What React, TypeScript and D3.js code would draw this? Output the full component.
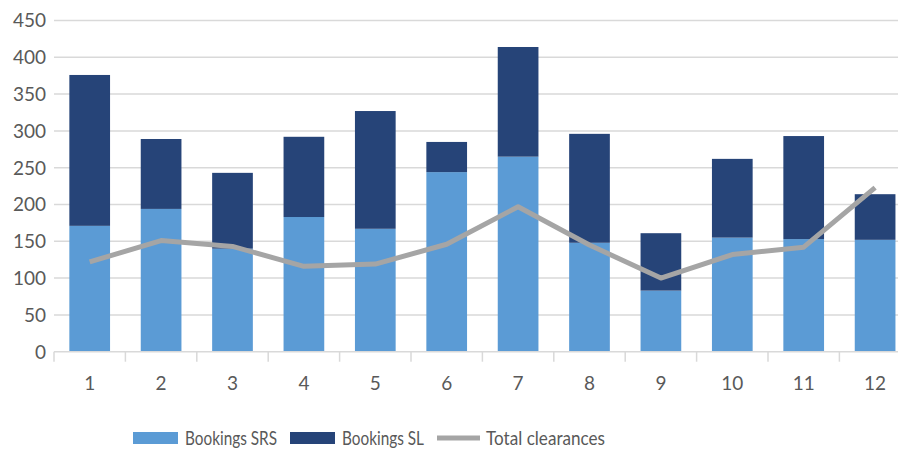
import React, { useEffect, useRef } from "react";
import * as d3 from "d3";

// month index -> values
const categories = ["1", "2", "3", "4", "5", "6", "7", "8", "9", "10", "11", "12"];
const bookingsSRS = [171, 194, 140, 183, 167, 244, 265, 148, 83, 155, 153, 152];
const bookingsSL = [205, 95, 103, 109, 160, 41, 149, 148, 78, 107, 140, 62];
const totalClearances = [122, 151, 143, 116, 119, 146, 197, 145, 100, 132, 142, 223];
const yTicks = [0, 50, 100, 150, 200, 250, 300, 350, 400, 450];
const legendItems = [
    { label: "Bookings SRS", color: "#5B9BD5", kind: "rect", x: 133, textW: 92 },
    { label: "Bookings SL", color: "#264478", kind: "rect", x: 290, textW: 82 },
    { label: "Total clearances", color: "#A5A5A5", kind: "line", x: 437, textW: 119 },
];

const W = 898;
const H = 451;

const App = () => {
    const svgRef = useRef<SVGSVGElement | null>(null);

    useEffect(() => {
        const svg = d3.select(svgRef.current);
        svg.selectAll("*").remove();

        const font = "Lato, 'Open Sans', sans-serif";
        const left = 54;
        const step = 71.4;
        const plotRight = left + step * categories.length;
        const top = 20.5;
        const bottom = 351.7;

        const x = d3.scaleBand<string>()
            .domain(categories)
            .range([left, plotRight])
            .paddingInner(0.43)
            .paddingOuter(0.215);

        const y = d3.scaleLinear().domain([0, 450]).range([bottom, top]);

        // gridlines
        svg.append("g")
            .selectAll("line")
            .data(yTicks.filter(d => d > 0))
            .enter()
            .append("line")
            .attr("x1", left)
            .attr("x2", W)
            .attr("y1", d => y(d))
            .attr("y2", d => y(d))
            .attr("stroke", "#D9D9D9")
            .attr("stroke-width", 1.5);

        // y labels
        svg.append("g")
            .selectAll("text")
            .data(yTicks)
            .enter()
            .append("text")
            .attr("x", 46)
            .attr("y", d => y(d))
            .attr("dy", "0.36em")
            .attr("text-anchor", "end")
            .attr("fill", "#595959")
            .style("font-family", font)
            .style("font-size", "19px")
            .text(d => d);

        // stacked bars
        const stacked = categories.map((c, i) => ({ c, srs: bookingsSRS[i], sl: bookingsSL[i] }));
        const bars = svg.append("g");
        bars.selectAll(".srs")
            .data(stacked)
            .enter()
            .append("rect")
            .attr("class", "srs")
            .attr("x", d => x(d.c)!)
            .attr("width", x.bandwidth())
            .attr("y", d => y(d.srs))
            .attr("height", d => y(0) - y(d.srs))
            .attr("fill", "#5B9BD5");
        bars.selectAll(".sl")
            .data(stacked)
            .enter()
            .append("rect")
            .attr("class", "sl")
            .attr("x", d => x(d.c)!)
            .attr("width", x.bandwidth())
            .attr("y", d => y(d.srs + d.sl))
            .attr("height", d => y(d.srs) - y(d.srs + d.sl))
            .attr("fill", "#264478");

        // x axis line + ticks
        svg.append("line")
            .attr("x1", left)
            .attr("x2", W)
            .attr("y1", bottom)
            .attr("y2", bottom)
            .attr("stroke", "#D9D9D9")
            .attr("stroke-width", 1.5);
        const bounds = d3.range(categories.length + 1).map(i => left + i * step);
        svg.append("g")
            .selectAll("line")
            .data(bounds)
            .enter()
            .append("line")
            .attr("x1", d => d)
            .attr("x2", d => d)
            .attr("y1", bottom)
            .attr("y2", bottom + 10)
            .attr("stroke", "#D9D9D9")
            .attr("stroke-width", 1.5);

        svg.append("g")
            .selectAll("text")
            .data(categories)
            .enter()
            .append("text")
            .attr("x", d => x(d)! + x.bandwidth() / 2)
            .attr("y", 383)
            .attr("dy", "0.36em")
            .attr("text-anchor", "middle")
            .attr("fill", "#595959")
            .style("font-family", font)
            .style("font-size", "19px")
            .text(d => d);

        // total clearances line
        const line = d3.line<number>()
            .x((d, i) => x(categories[i])! + x.bandwidth() / 2)
            .y(d => y(d));
        svg.append("path")
            .datum(totalClearances)
            .attr("d", line)
            .attr("fill", "none")
            .attr("stroke", "#A5A5A5")
            .attr("stroke-width", 5)
            .attr("stroke-linejoin", "round");

        // legend
        const lg = svg.append("g").selectAll("g").data(legendItems).enter().append("g");
        lg.filter(d => d.kind === "rect")
            .append("rect")
            .attr("x", d => d.x)
            .attr("y", 432)
            .attr("width", 45)
            .attr("height", 12)
            .attr("fill", d => d.color);
        lg.filter(d => d.kind === "line")
            .append("line")
            .attr("x1", d => d.x)
            .attr("x2", d => d.x + 43)
            .attr("y1", 438)
            .attr("y2", 438)
            .attr("stroke", d => d.color)
            .attr("stroke-width", 5);
        lg.append("text")
            .attr("x", d => d.x + (d.kind === "rect" ? 52 : 49))
            .attr("y", 438)
            .attr("dy", "0.36em")
            .attr("fill", "#595959")
            .attr("textLength", d => d.textW)
            .attr("lengthAdjust", "spacingAndGlyphs")
            .style("font-family", font)
            .style("font-size", "19px")
            .text(d => d.label);
    }, []);

    return (
        <svg
            ref={svgRef}
            width={W}
            height={H}
            style={{ position: "absolute", left: 0, top: 0, background: "#fff" }}
        />
    );
};

export default App;
